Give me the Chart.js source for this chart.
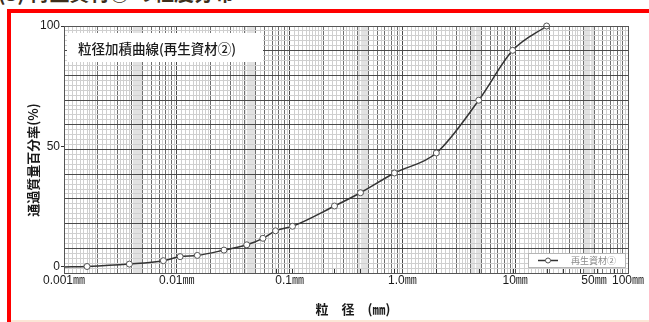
<!DOCTYPE html>
<html lang="ja">
<head>
<meta charset="utf-8">
<script src="https://cdn.jsdelivr.net/npm/chart.js@4.4.1/dist/chart.umd.min.js"></script>
<style>
  html, body { margin: 0; padding: 0; background: #fff; }
  body { width: 649px; height: 322px; overflow: hidden; position: relative; }
  #heading { position: absolute; left: -2px; top: -17px; font: bold 20px/20px "Noto Sans CJK JP", sans-serif; color: #3d2f1c; white-space: nowrap; }
  #frame { position: absolute; left: 7px; top: 9px; width: 680px; height: 360px; border: 4px solid #ff0000; box-sizing: border-box; pointer-events: none; }
  #rule { position: absolute; left: 11px; top: 320px; width: 640px; height: 2px; background: #fbe6d6; }
  #plot { position: absolute; left: 0; top: 0; }
</style>
</head>
<body>
<div id="heading">(3) 再生資材② の粒度分布</div>
<div id="rule"></div>
<canvas id="plot" width="649" height="322"></canvas>
<div id="frame"></div>
<script>
// Grain-size accumulation curve (sieve + hydrometer results)
const particleSize   = [0.001, 0.0016, 0.0038, 0.0076, 0.0107, 0.0152, 0.0262, 0.0417, 0.058, 0.075, 0.106, 0.25, 0.425, 0.85, 2.0, 4.75, 9.5, 19.0];
const passingPercent = [0,     0.2,    1.2,    2.6,    4.3,    4.8,    7.0,    9.2,    11.9,  15.0,  16.9,  25.3, 30.8,  39.0, 47.3, 69.2, 89.9, 100];

// Standard sieve openings marked along the bottom edge
const sieveSizes = [0.075, 0.106, 0.25, 0.425, 0.85, 2, 4.75, 9.5, 19, 26.5, 37.5, 53, 75];

const xLabelValues = [0.001, 0.01, 0.1, 1, 10, 50, 100];
const xLabelTexts  = ['0.001㎜', '0.01㎜', '0.1㎜', '1.0㎜', '10㎜', '50㎜', '100㎜'];
const yLabelValues = [0, 50, 100];

const seriesName = '再生資材②';
const boxTitle   = '粒径加積曲線(再生資材②)';
const xTitle     = '粒　径　(㎜)';
const yTitle     = '通過質量百分率(%)';

const LATIN = '"Liberation Sans", "Noto Sans CJK JP", sans-serif';
const CJK   = '"Noto Sans CJK JP", sans-serif';

// log-paper rulings: mantissa x10 within each decade
function logPaperValues() {
  const m = [];
  for (let i = 10; i <= 20; i++) m.push(i);
  for (let i = 22; i <= 40; i += 2) m.push(i);
  for (let i = 41; i <= 50; i++) m.push(i);
  for (let i = 55; i <= 95; i += 5) m.push(i);
  const vals = [];
  for (let e = -3; e < 2; e++) {
    const base = Math.pow(10, e);
    m.forEach(k => vals.push(parseFloat((k * base / 10).toPrecision(6))));
  }
  vals.push(100);
  return Array.from(new Set(vals)).sort((a, b) => a - b);
}

function mantissa(v) {
  const e = Math.floor(Math.log10(v) + 1e-9);
  return Math.round(v / Math.pow(10, e) * 10) / 10;
}

function xGridColor(ctx) {
  const v = ctx.tick && ctx.tick.value;
  if (!v) return 'rgba(0,0,0,0)';
  const m = mantissa(v);
  if (Math.abs(m - 1) < 1e-6 || Math.abs(m - 10) < 1e-6) return '#4a4a4a';
  if (Math.abs(m - Math.round(m)) < 1e-6) return '#6e6e6e';
  if (m > 4 && m < 5) return '#e2e2e2';
  return '#cfcfcf';
}

function labelFor(value) {
  const i = xLabelValues.findIndex(v => Math.abs(v - value) / v < 1e-6);
  return i >= 0 ? xLabelTexts[i] : '';
}

const decorations = {
  id: 'decorations',
  afterDraw(chart) {
    const { ctx, chartArea: a, scales } = chart;
    const xs = scales.x;
    ctx.save();

    // sieve marks rising from the bottom edge
    ctx.strokeStyle = '#333';
    ctx.lineWidth = 1;
    sieveSizes.forEach(s => {
      const px = Math.round(xs.getPixelForValue(s)) + 0.5;
      ctx.beginPath();
      ctx.moveTo(px, a.bottom);
      ctx.lineTo(px, a.bottom - 4);
      ctx.stroke();
    });

    // plot frame
    ctx.strokeStyle = '#555';
    ctx.lineWidth = 1;
    ctx.strokeRect(Math.round(a.left) + 0.5, Math.round(a.top) + 0.5,
                   Math.round(a.right - a.left), Math.round(a.bottom - a.top));

    // title box in the upper-left corner
    ctx.fillStyle = '#fff';
    ctx.fillRect(a.left + 3, a.top + 7, 196, 29);
    ctx.fillStyle = '#1a1a1a';
    ctx.font = '500 13.5px ' + CJK;
    ctx.textBaseline = 'middle';
    ctx.textAlign = 'left';
    ctx.fillText(boxTitle, a.left + 14, a.top + 23);

    // legend box in the lower-right corner
    const lx = 528, ly = 253, lw = 97, lh = 14;
    ctx.fillStyle = '#fff';
    ctx.fillRect(lx, ly, lw, lh);
    ctx.strokeStyle = '#b5b5b5';
    ctx.strokeRect(lx + 0.5, ly + 0.5, lw, lh);
    ctx.strokeStyle = '#333';
    ctx.lineWidth = 1.5;
    ctx.beginPath();
    ctx.moveTo(lx + 10, ly + 7.5);
    ctx.lineTo(lx + 30, ly + 7.5);
    ctx.stroke();
    ctx.fillStyle = '#fff';
    ctx.lineWidth = 1;
    ctx.strokeStyle = '#555';
    ctx.beginPath();
    ctx.arc(lx + 20, ly + 7.5, 2.5, 0, Math.PI * 2);
    ctx.fill();
    ctx.stroke();
    ctx.fillStyle = '#8a8a8a';
    ctx.font = '9px ' + CJK;
    ctx.fillText(seriesName, lx + 43, ly + 7.5);

    // axis titles
    ctx.fillStyle = '#1a1a1a';
    ctx.font = 'bold 13px ' + CJK;
    ctx.textAlign = 'center';
    ctx.fillText(xTitle, 353, 309.5);
    ctx.translate(33, 160);
    ctx.rotate(-Math.PI / 2);
    ctx.fillText(yTitle, 0, 0);
    ctx.restore();
  }
};

new Chart(document.getElementById('plot'), {
  type: 'line',
  data: {
    datasets: [{
      label: seriesName,
      data: particleSize.map((d, i) => ({ x: d, y: passingPercent[i] })),
      borderColor: '#333',
      borderWidth: 1.5,
      cubicInterpolationMode: 'monotone',
      pointRadius: ctx => (ctx.dataIndex === 0 ? 0 : 3),
      pointBackgroundColor: '#fff',
      pointBorderColor: '#555',
      pointBorderWidth: 1,
      clip: false
    }]
  },
  options: {
    responsive: false,
    animation: false,
    devicePixelRatio: 1,
    layout: { padding: { top: 26, right: 21, bottom: 0, left: 0 } },
    plugins: { legend: { display: false }, tooltip: { enabled: false }, title: { display: false } },
    scales: {
      x: {
        type: 'logarithmic',
        min: 0.001,
        max: 100,
        afterBuildTicks: s => { s.ticks = logPaperValues().map(v => ({ value: v })); },
        afterFit: s => { s.height = 49; },
        ticks: {
          autoSkip: false,
          maxRotation: 0,
          padding: 0,
          color: '#1a1a1a',
          font: { family: LATIN, size: 12 },
          callback: v => labelFor(v)
        },
        grid: { color: xGridColor, lineWidth: 1, drawTicks: false },
        border: { display: false }
      },
      y: {
        type: 'linear',
        min: -2.5,
        max: 100,
        position: 'left',
        afterBuildTicks: s => { s.ticks = yLabelValues.map(v => ({ value: v })); },
        afterFit: s => { s.width = 64; },
        ticks: { padding: 1, color: '#1a1a1a', font: { family: LATIN, size: 12 } },
        grid: { drawOnChartArea: false, drawTicks: true, tickLength: 3, tickColor: '#333' },
        border: { display: false }
      },
      paper: {
        type: 'linear',
        min: 0,
        max: 10,
        position: 'left',
        afterBuildTicks: s => {
          const t = [];
          for (let i = 0; i <= 50; i++) t.push({ value: i / 5 });
          s.ticks = t;
        },
        afterFit: s => { s.width = 0; },
        ticks: { display: false },
        grid: {
          drawTicks: false,
          lineWidth: 1,
          color: ctx => {
            const v = ctx.tick && ctx.tick.value;
            if (v === undefined) return 'rgba(0,0,0,0)';
            return Math.abs(v - Math.round(v)) < 1e-6 ? '#4a4a4a' : '#cfcfcf';
          }
        },
        border: { display: false }
      }
    }
  },
  plugins: [decorations]
});
</script>
</body>
</html>
